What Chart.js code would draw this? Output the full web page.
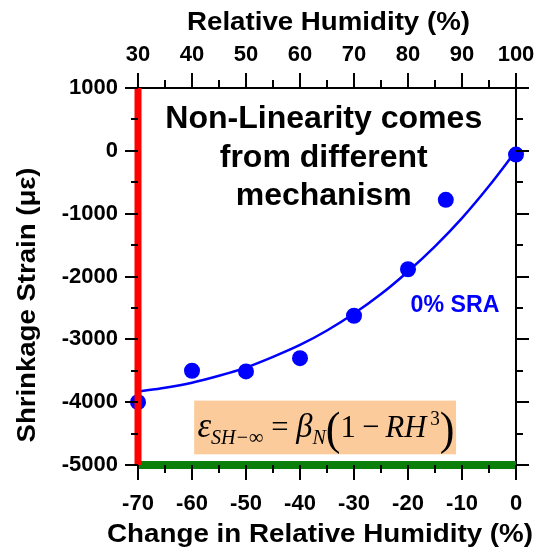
<!DOCTYPE html>
<html><head><meta charset="utf-8">
<script src="https://cdn.jsdelivr.net/npm/chart.js@4.4.0/dist/chart.umd.min.js"></script>
<style>html,body{margin:0;padding:0;background:#fff}</style>
</head><body>
<canvas id="c" width="540" height="550" style="display:block;width:540px;height:550px"></canvas>
<script>
// ---- data ----
const deltaRH = [-70, -60, -50, -40, -30, -20, -13, 0];
const strain = [-4000, -3500, -3510, -3300, -2625, -1885, -780, -60];
const fitDeltaRH = [-70, -65, -60, -55, -50, -45, -40, -35, -30, -25, -20, -15, -10, -5, 0];
const fitStrain = [-3830, -3770, -3690, -3580, -3450, -3280, -3090, -2860, -2590, -2280, -1920, -1520, -1070, -560, 0];
const bottomTicks = [-70, -60, -50, -40, -30, -20, -10, 0];
const topTicks = [30, 40, 50, 60, 70, 80, 90, 100];
const yTicks = [1000, 0, -1000, -2000, -3000, -4000, -5000];
const limitRH = [-70, -70];
const limitRHStrain = [-5000, 1000];
const limitStrainX = [-70, 0];
const limitStrainY = [-5000, -5000];

const FONT = '"Liberation Sans", Arial, sans-serif';
const SERIF = '"Liberation Serif", "Times New Roman", serif';
const BLUE = '#0000ff';

const tickFont = { family: FONT, size: 22, weight: 'bold' };
const setTicks = arr => scale => { scale.ticks = arr.map(v => ({ value: v })); };

function fitText(ctx, text, cx, y, target) {
  const w = ctx.measureText(text).width;
  const sx = target ? target / w : 1;
  ctx.save();
  ctx.translate(cx, y);
  ctx.scale(sx, 1);
  ctx.textAlign = 'center';
  ctx.fillText(text, 0, 0);
  ctx.restore();
}

const decorPlugin = {
  id: 'decor',
  beforeDatasetsDraw(chart) {
    const ctx = chart.ctx, s = chart.scales;
    const x0 = s.x.getPixelForValue(-59.6), x1 = s.x.getPixelForValue(-11.1);
    const y0 = s.y.getPixelForValue(-3975), y1 = s.y.getPixelForValue(-4830);
    ctx.save();
    ctx.fillStyle = '#fccb9c';
    ctx.fillRect(x0, y0, x1 - x0, y1 - y0);
    ctx.restore();
  },
  afterDraw(chart) {
    const ctx = chart.ctx, s = chart.scales, a = chart.chartArea;
    ctx.save();
    ctx.strokeStyle = '#000'; ctx.lineWidth = 2;
    const line = (x1, y1, x2, y2) => { ctx.beginPath(); ctx.moveTo(x1, y1); ctx.lineTo(x2, y2); ctx.stroke(); };
    for (let v = -70; v <= 0; v += 5) {
      const px = Math.round(s.x.getPixelForValue(v)); const L = (v % 10 === 0) ? 15 : 8;
      line(px, a.bottom, px, a.bottom + L);
    }
    for (let v = 30; v <= 100; v += 5) {
      const px = Math.round(s.x2.getPixelForValue(v)); const L = (v % 10 === 0) ? 15 : 8;
      line(px, a.top, px, a.top - L);
    }
    for (let v = -5000; v <= 1000; v += 500) {
      const py = Math.round(s.y.getPixelForValue(v)); const L = (v % 1000 === 0) ? 13 : 7;
      line(a.left, py, a.left - L, py);
      line(a.right, py, a.right + L, py);
    }
    ctx.fillStyle = '#000';
    ctx.font = 'bold 26px ' + FONT;
    ctx.textBaseline = 'alphabetic';
    fitText(ctx, 'Relative Humidity (%)', 328.5, 30, 283);
    fitText(ctx, 'Change in Relative Humidity (%)', 320, 542, 426);
    ctx.save();
    ctx.translate(35, 305);
    ctx.rotate(-Math.PI / 2);
    fitText(ctx, 'Shrinkage Strain (\u03bc\u03b5)', 0, 0, 275);
    ctx.restore();
    ctx.font = 'bold 32px ' + FONT;
    const ax = s.x.getPixelForValue(-35.6);
    fitText(ctx, 'Non-Linearity comes', ax, s.y.getPixelForValue(368), 317);
    fitText(ctx, 'from different', ax, s.y.getPixelForValue(-253));
    fitText(ctx, 'mechanism', ax, s.y.getPixelForValue(-859));
    ctx.fillStyle = BLUE;
    ctx.font = 'bold 23px ' + FONT;
    fitText(ctx, '0% SRA', s.x.getPixelForValue(-11.3), s.y.getPixelForValue(-2558), 89);
    ctx.fillStyle = '#000';
    const segs = [
      { t: '\u03b5', f: 'italic 36px ' + SERIF, dy: 0 },
      { t: 'SH\u2212\u221e', f: 'italic 21px ' + SERIF, dy: 7 },
      { t: ' = ', f: '32px ' + SERIF, dy: 0 },
      { t: '\u03b2', f: 'italic 34px ' + SERIF, dy: 0 },
      { t: 'N', f: 'italic 21px ' + SERIF, dy: 7 },
      { t: '(', f: '46px ' + SERIF, dy: 7 },
      { t: '1', f: '32px ' + SERIF, dy: 0 },
      { t: '\u2009\u2212\u2009', f: '32px ' + SERIF, dy: 0 },
      { t: 'RH', f: 'italic 32px ' + SERIF, dy: 0 },
      { t: '\u20093', f: '20px ' + SERIF, dy: -12 },
      { t: ')', f: '46px ' + SERIF, dy: 7 }
    ];
    let total = 0;
    segs.forEach(g => { ctx.font = g.f; g.w = ctx.measureText(g.t).width; total += g.w; });
    const fx0 = s.x.getPixelForValue(-59.0), fx1 = s.x.getPixelForValue(-11.4);
    const base = s.y.getPixelForValue(-4554);
    const sx = (fx1 - fx0) / total;
    ctx.save();
    ctx.translate(fx0, base);
    ctx.scale(sx, 1);
    ctx.textAlign = 'left';
    let cx = 0;
    segs.forEach(g => { ctx.font = g.f; ctx.fillText(g.t, cx, g.dy); cx += g.w; });
    ctx.restore();
    ctx.restore();
  }
};

const pts = (xs, ys) => xs.map((x, i) => ({ x: x, y: ys[i] }));
const noSidePad = h => sc => { sc.height = h; sc.paddingLeft = 0; sc.paddingRight = 0; };

new Chart(document.getElementById('c'), {
  type: 'scatter',
  data: {
    datasets: [
      { label: 'RH limit', type: 'line', data: pts(limitRH, limitRHStrain), borderColor: '#ff0000', borderWidth: 7,
        pointRadius: 0, clip: false, order: 0, borderCapStyle: 'butt' },
      { label: 'Strain limit', type: 'line', data: pts(limitStrainX, limitStrainY), borderColor: '#0a7f0a', borderWidth: 8,
        pointRadius: 0, clip: false, order: 0, borderCapStyle: 'butt' },
      { label: '0% SRA', data: pts(deltaRH, strain), backgroundColor: BLUE, borderColor: BLUE, pointRadius: 8,
        pointBorderWidth: 0, clip: false, order: 1 },
      { label: 'fit', type: 'line', data: pts(fitDeltaRH, fitStrain), borderColor: BLUE, borderWidth: 2.5,
        pointRadius: 0, cubicInterpolationMode: 'monotone', clip: false, order: 2, fill: false }
    ]
  },
  options: {
    responsive: false,
    animation: false,
    devicePixelRatio: 1,
    layout: { padding: 0 },
    plugins: { legend: { display: false }, tooltip: { enabled: false } },
    scales: {
      x: {
        type: 'linear', position: 'bottom', min: -70, max: 0,
        afterBuildTicks: setTicks(bottomTicks),
        afterFit: noSidePad(85),
        grid: { display: false, drawTicks: false },
        border: { display: true, color: '#000', width: 2 },
        ticks: { font: tickFont, color: '#000', padding: 26, maxRotation: 0, autoSkip: false, callback: v => String(v) }
      },
      x2: {
        type: 'linear', axis: 'x', position: 'top', min: 30, max: 100,
        afterBuildTicks: setTicks(topTicks),
        afterFit: noSidePad(88),
        grid: { display: false, drawTicks: false },
        border: { display: true, color: '#000', width: 2 },
        ticks: { font: tickFont, color: '#000', padding: 20, maxRotation: 0, autoSkip: false, callback: v => String(v) }
      },
      y: {
        type: 'linear', position: 'left', min: -5000, max: 1000,
        afterBuildTicks: setTicks(yTicks),
        afterFit: sc => { sc.width = 138; sc.paddingTop = 0; sc.paddingBottom = 0; },
        grid: { display: false, drawTicks: false },
        border: { display: true, color: '#000', width: 2 },
        ticks: { font: tickFont, color: '#000', padding: 20, autoSkip: false, callback: v => String(v) }
      },
      y2: {
        type: 'linear', axis: 'y', position: 'right', min: -5000, max: 1000,
        afterFit: sc => { sc.width = 24; sc.paddingTop = 0; sc.paddingBottom = 0; },
        grid: { display: false, drawTicks: false },
        border: { display: true, color: '#000', width: 2 },
        ticks: { display: false }
      }
    }
  },
  plugins: [decorPlugin]
});
</script>
</body></html>
